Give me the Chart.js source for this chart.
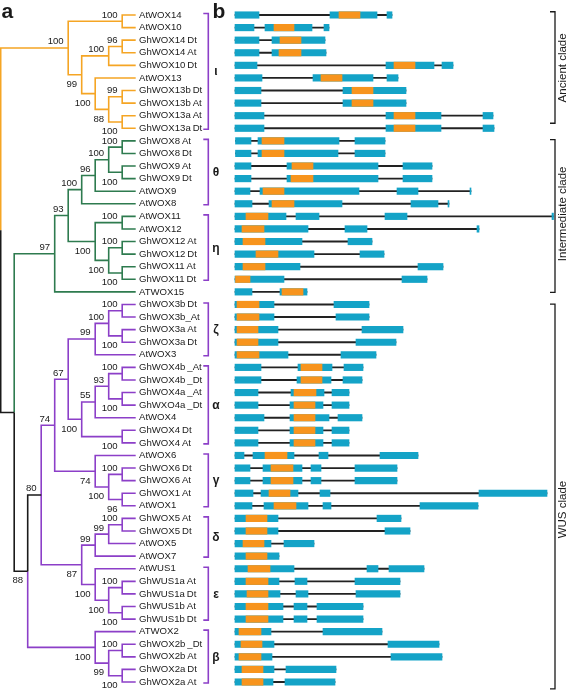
<!DOCTYPE html>
<html lang="en">
<head>
<meta charset="utf-8">
<title>WOX phylogeny and gene structure</title>
<script src="https://cdn.jsdelivr.net/npm/chart.js@4.4.1/dist/chart.umd.min.js"></script>
<style>
  html, body { margin: 0; padding: 0; background: #fff; }
  #wrap { position: relative; width: 568px; height: 690px; }
  #wrap canvas { position: absolute; left: 0; top: 0; }
</style>
</head>
<body>
<div id="wrap">
  <canvas id="treeChart" width="568" height="690"></canvas>
  <canvas id="geneChart" width="568" height="690"></canvas>
</div>
<script>
// ---- data -------------------------------------------------------------
const genes = [
  'AtWOX14', 'AtWOX10', 'GhWOX14\u2009Dt', 'GhWOX14\u2009At', 'GhWOX10\u2009Dt',
  'AtWOX13', 'GhWOX13b\u2009Dt', 'GhWOX13b\u2009At', 'GhWOX13a\u2009At', 'GhWOX13a\u2009Dt',
  'GhWOX8\u2009At', 'GhWOX8\u2009Dt', 'GhWOX9\u2009At', 'GhWOX9\u2009Dt', 'AtWOX9', 'AtWOX8',
  'AtWOX11', 'AtWOX12', 'GhWOX12\u2009At', 'GhWOX12\u2009Dt', 'GhWOX11\u2009At', 'GhWOX11\u2009Dt',
  'ATWOX15',
  'GhWOX3b\u2009Dt', 'GhWOX3b_At', 'GhWOX3a\u2009At', 'GhWOX3a\u2009Dt', 'AtWOX3',
  'GhWOX4b\u2009_At', 'GhWOX4b\u2009_Dt', 'GhWOX4a\u2009_At', 'GhWXO4a\u2009_Dt', 'AtWOX4',
  'GhWOX4\u2009Dt', 'GhWOX4\u2009At',
  'AtWOX6', 'GhWOX6\u2009Dt', 'GhWOX6\u2009At', 'GhWOX1\u2009At', 'AtWOX1',
  'GhWOX5\u2009At', 'GhWOX5\u2009Dt', 'AtWOX5', 'AtWOX7',
  'AtWUS1', 'GhWUS1a\u2009At', 'GhWUS1a\u2009Dt', 'GhWUS1b\u2009At', 'GhWUS1b\u2009Dt',
  'ATWOX2', 'GhWOX2b\u2009_Dt', 'GhWOX2b\u2009At', 'GhWOX2a\u2009Dt', 'GhWOX2a\u2009At'
];

// exons per gene (relative position from gene start)
const exons = [
  [[0,24],[95,142],[152,157]],
  [[0,19],[30,77],[89,94]],
  [[0,24],[37,90]],
  [[0,24],[37,91]],
  [[0,22],[151,199],[207,218]],
  [[0,27],[78,138],[152,163]],
  [[0,26],[108,171]],
  [[0,26],[108,171]],
  [[0,29],[151,206],[248,258]],
  [[0,29],[151,206],[248,259]],
  [[0.5,16],[23,104],[120,150]],
  [[0.5,16],[23,103],[120,150]],
  [[0,16],[52,143],[168,197]],
  [[0,16],[52,143],[168,197]],
  [[0,15],[25,124],[162,183],[235,236]],
  [[0,17],[34,107],[176,203],[213,214]],
  [[0,51],[61,84],[150,172],[317,318.5]],
  [[0,73],[110,132],[242,244]],
  [[0,67],[113,137]],
  [[0,79],[125,149]],
  [[0,65],[183,208]],
  [[0,49],[167,192]],
  [[0,17],[45,72]],
  [[0,39],[99,134]],
  [[0,39],[101,134]],
  [[0,43],[127,168]],
  [[0,43],[121,161]],
  [[0,53],[106,141]],
  [[0,26],[63,97],[109,128]],
  [[0,26],[62,96],[108,127]],
  [[0,23],[56,89],[97,114]],
  [[0,23],[55,88],[97,114]],
  [[0,29],[55,94],[103,127]],
  [[0,23],[55,88],[97,114]],
  [[0,23],[55,88],[97,114]],
  [[0,9],[18,59],[84,93],[145,183]],
  [[0,15],[28,67],[76,86],[120,162]],
  [[0,15],[28,67],[76,86],[120,162]],
  [[0,18],[26,63],[85,95],[244,312]],
  [[0,17],[29,73],[88,96],[185,243]],
  [[0,43],[142,166]],
  [[0,43],[150,175]],
  [[0,36],[49,79]],
  [[0,44]],
  [[0,59],[132,143],[154,189]],
  [[0,44],[60,72],[120,165]],
  [[0,45],[61,73],[121,165]],
  [[0,48],[59,72],[82,128]],
  [[0,48],[59,72],[82,128]],
  [[0,36],[88,147]],
  [[0,39],[153,204]],
  [[0,37],[156,207]],
  [[0,39],[51,101]],
  [[0,38],[50,100]]
];

// homeobox domain per gene
const domains = [
  [104,125],[39,59],[45,66],[44,66],[159,180],[86,107],[117,138],[117,138],[159,180],[159,180],
  [27,49],[27,49],[57,78],[56,78],[28,49],[37,59],
  [11,33],[7,29],[8,30],[21,43],[8,30],[0.5,15],
  [47,68],
  [2,24],[2,24],[2,23],[2,23],[2,24],
  [66,87],[66,87],[59,81],[59,80],[59,80],[59,80],[59,80],
  [30,52],[36,58],[36,58],[34,55],[39,61],
  [11,32],[11,32],[8,29],[11,32],
  [13,35],[11,33],[12,33],[11,33],[11,33],
  [4,26],[6,27],[4,26],[7,28],[7,28]
];

// tree: [id, level, upper child, lower child, bootstrap, colour]
// numbers are leaf rows, strings are other nodes
const tipLevel = 10;
const nodes = [
  ['A', 9, 0, 1, 100, 'o'],
  ['B', 9, 2, 3, 96, 'o'],
  ['C', 8, 'B', 4, 100, 'o'],
  ['D', 9, 6, 7, 99, 'o'],
  ['E', 9, 8, 9, 100, 'o'],
  ['F', 8, 'D', 'E', 88, 'o'],
  ['G', 7, 5, 'F', 100, 'o'],
  ['H', 6, 'C', 'G', 99, 'o'],
  ['I', 5, 'A', 'H', 100, 'o'],
  ['J', 9, 10, 11, 100, 'g'],
  ['K', 9, 12, 13, 100, 'g'],
  ['L', 8, 'J', 'K', 100, 'g'],
  ['M', 7, 'L', 14, 96, 'g'],
  ['N', 6, 'M', 15, 100, 'g'],
  ['O1', 9, 16, 17, 100, 'g'],
  ['O2', 9, 18, 19, 100, 'g'],
  ['O3', 9, 20, 21, 100, 'g'],
  ['O4', 8, 'O2', 'O3', 100, 'g'],
  ['O5', 7, 'O1', 'O4', 100, 'g'],
  ['P', 5, 'N', 'O5', 93, 'g'],
  ['Q', 4, 'P', 22, 97, 'g'],
  ['X1', 9, 23, 24, 100, 'p'],
  ['X3', 9, 25, 26, 100, 'p'],
  ['X2', 8, 'X1', 'X3', 100, 'p'],
  ['X4', 7, 'X2', 27, 99, 'p'],
  ['Y1', 9, 28, 29, 100, 'p'],
  ['Y2', 9, 30, 31, 100, 'p'],
  ['Y3', 8, 'Y1', 'Y2', 93, 'p'],
  ['Y4', 7, 'Y3', 32, 55, 'p'],
  ['Y5', 9, 33, 34, 100, 'p'],
  ['Y6', 6, 'Y4', 'Y5', 100, 'p'],
  ['Y7', 5, 'X4', 'Y6', 67, 'p'],
  ['Z1', 9, 36, 37, 100, 'p'],
  ['Z4', 9, 38, 39, 96, 'p'],
  ['Z2', 8, 'Z1', 'Z4', 100, 'p'],
  ['Z3', 7, 35, 'Z2', 74, 'p'],
  ['V', 4, 'Y7', 'Z3', 74, 'p'],
  ['D1', 9, 40, 41, 100, 'p'],
  ['D2', 8, 'D1', 42, 99, 'p'],
  ['D3', 7, 'D2', 43, 99, 'p'],
  ['E1', 9, 45, 46, 100, 'p'],
  ['E2', 9, 47, 48, 100, 'p'],
  ['E3', 8, 'E1', 'E2', 100, 'p'],
  ['E4', 7, 44, 'E3', 100, 'p'],
  ['W', 6, 'D3', 'E4', 87, 'p'],
  ['U', 3, 'V', 'W', 80, 'k'],
  ['B1', 9, 50, 51, 100, 'p'],
  ['B2', 9, 52, 53, 100, 'p'],
  ['B3', 8, 'B1', 'B2', 99, 'p'],
  ['B4', 7, 49, 'B3', 100, 'p'],
  ['T', 2, 'U', 'B4', 88, 'k'],
  ['S', 1, 'Q', 'T', null, 'k'],
  ['root', 0, 'I', 'S', null, 'k']
];

// leaf colour groups [colour, first row, last row]
const leafGroups = [['o', 0, 9], ['g', 10, 22], ['p', 23, 53]];

// subfamily brackets next to the tree
const subclades = [
  ['\u03b9', 0, 9], ['\u03b8', 10, 15], ['\u03b7', 16, 21], ['\u03b6', 23, 27],
  ['\u03b1', 28, 34], ['\u03b3', 35, 39], ['\u03b4', 40, 43], ['\u03b5', 44, 48], ['\u03b2', 49, 53]
];

// big clades on the right: [name, span start row, span end row, label row]
const majorClades = [
  ['Ancient clade', -0.26, 8.6, 4.2],
  ['Intermediate clade', 9.9, 22.04, 15.8],
  ['WUS clade', 22.97, 53.55, 39.3]
];

// ---- styles -----------------------------------------------------------
const colours = { o: '#F5A524', g: '#2E7B4F', p: '#8C3FC8', k: '#1a1a1a' };
const EXON = '#14A3C7';
const HOMEOBOX = '#F7941D';
const FONT = '"Liberation Sans", Arial, Helvetica, sans-serif';

// shared row scale (row 0 at 15px, row 53 at 682px)
const ROW_PX = 12.585;
const yMin = -15 / ROW_PX;
const yMax = yMin + 690 / ROW_PX;

// ---- tree layout ------------------------------------------------------
const byId = {};
nodes.forEach(n => { byId[n[0]] = n; });
const placed = {};
const upper = {};
nodes.forEach(n => { upper[n[2]] = true; upper[n[3]] = false; });

function leafColour(i) {
  return leafGroups.find(g => i >= g[1] && i <= g[2])[0];
}
function place(ref) {
  if (typeof ref === 'number') return { x: tipLevel, y: ref, col: leafColour(ref) };
  if (placed[ref]) return placed[ref];
  const n = byId[ref];
  const a = place(n[2]), b = place(n[3]);
  placed[ref] = { x: n[1], y: (a.y + b.y) / 2, col: n[5] };
  return placed[ref];
}

const segs = { o: [], g: [], p: [], k: [] };
nodes.forEach(n => {
  const p = place(n[0]);
  [n[2], n[3]].forEach(ch => {
    const c = place(ch);
    segs[c.col].push({ x: p.x, y: p.y }, { x: p.x, y: c.y }, { x: c.x, y: c.y }, { x: c.x, y: null });
  });
});

const treeDatasets = ['k', 'g', 'p', 'o'].map(k => ({
  data: segs[k],
  borderColor: colours[k],
  borderWidth: 1.6,
  showLine: true,
  spanGaps: false,
  pointRadius: 0,
  tension: 0,
  fill: false
}));

const treeText = {
  id: 'treeText',
  afterDatasetsDraw(chart) {
    const { ctx, scales: { x, y } } = chart;
    ctx.save();
    ctx.fillStyle = '#1a1a1a';

    // gene names
    ctx.font = '9.6px ' + FONT;
    ctx.textAlign = 'left';
    ctx.textBaseline = 'middle';
    genes.forEach((g, i) => ctx.fillText(g, x.getPixelForValue(tipLevel) + 3.3, y.getPixelForValue(i)));

    // bootstrap values
    ctx.textAlign = 'right';
    ctx.textBaseline = 'alphabetic';
    nodes.forEach(n => {
      if (n[4] == null) return;
      const p = place(n[0]);
      const px = x.getPixelForValue(p.x) - 4.5;
      const py = y.getPixelForValue(p.y);
      ctx.fillText(String(n[4]), px, upper[n[0]] ? py - 3.6 : py + 12.3);
    });

    // subclade brackets
    ctx.strokeStyle = colours.p;
    ctx.lineWidth = 1.6;
    ctx.font = 'bold 12px ' + FONT;
    ctx.textAlign = 'center';
    subclades.forEach(([lab, a, b]) => {
      const y0 = y.getPixelForValue(a - 0.12);
      const y1 = y.getPixelForValue(b + 0.08);
      ctx.beginPath();
      ctx.moveTo(203.3, y0);
      ctx.lineTo(208.3, y0);
      ctx.lineTo(208.3, y1);
      ctx.lineTo(203.3, y1);
      ctx.stroke();
      ctx.fillText(lab, 216, (y0 + y1) / 2 + 4);
    });

    // panel letters
    ctx.font = 'bold 21px ' + FONT;
    ctx.textAlign = 'left';
    ctx.fillText('a', 1.5, 17.5);
    ctx.fillText('b', 212.5, 17.5);
    ctx.restore();
  }
};

new Chart(document.getElementById('treeChart'), {
  type: 'scatter',
  data: { datasets: treeDatasets },
  options: {
    responsive: false,
    animation: false,
    events: [],
    layout: { padding: 0 },
    scales: {
      x: { type: 'linear', display: false, min: -0.7 / 13.5, max: -0.7 / 13.5 + 568 / 13.5 },
      y: { type: 'linear', display: false, reverse: true, min: yMin, max: yMax }
    },
    plugins: { legend: { display: false }, tooltip: { enabled: false } }
  },
  plugins: [treeText]
});

// ---- gene structures --------------------------------------------------
const intronData = exons.map((ex, i) => ({ y: i, x: [ex[0][0], ex[ex.length - 1][1]] }));
const exonData = exons.flatMap((ex, i) => ex.map(e => ({ y: i, x: e })));
const domainData = domains.map((d, i) => ({ y: i, x: d }));

const cladeText = {
  id: 'cladeText',
  afterDatasetsDraw(chart) {
    const { ctx, scales: { y } } = chart;
    ctx.save();
    ctx.strokeStyle = '#1a1a1a';
    ctx.fillStyle = '#1a1a1a';
    ctx.lineWidth = 1.3;
    ctx.font = '11.5px ' + FONT;
    ctx.textAlign = 'center';
    ctx.textBaseline = 'middle';
    majorClades.forEach(([lab, a, b, mid]) => {
      const y0 = y.getPixelForValue(a);
      const y1 = y.getPixelForValue(b);
      ctx.beginPath();
      ctx.moveTo(550, y0);
      ctx.lineTo(555, y0);
      ctx.lineTo(555, y1);
      ctx.lineTo(550, y1);
      ctx.stroke();
      ctx.save();
      ctx.translate(563.3, y.getPixelForValue(mid));
      ctx.rotate(-Math.PI / 2);
      ctx.fillText(lab, 0, 0);
      ctx.restore();
    });
    ctx.restore();
  }
};

new Chart(document.getElementById('geneChart'), {
  type: 'bar',
  data: {
    datasets: [
      { data: domainData, backgroundColor: HOMEOBOX, barThickness: 6.5, order: 1 },
      { data: exonData, backgroundColor: EXON, barThickness: 6.5, order: 2 },
      { data: intronData, backgroundColor: '#222222', barThickness: 1.2, order: 3 }
    ]
  },
  options: {
    indexAxis: 'y',
    responsive: false,
    animation: false,
    events: [],
    layout: { padding: 0 },
    datasets: { bar: { grouped: false, borderWidth: 0 } },
    scales: {
      x: { type: 'linear', display: false, offset: false, min: -235, max: 333 },
      y: { type: 'linear', display: false, offset: false, reverse: true, min: yMin, max: yMax }
    },
    plugins: { legend: { display: false }, tooltip: { enabled: false } }
  },
  plugins: [cladeText]
});
</script>
</body>
</html>
